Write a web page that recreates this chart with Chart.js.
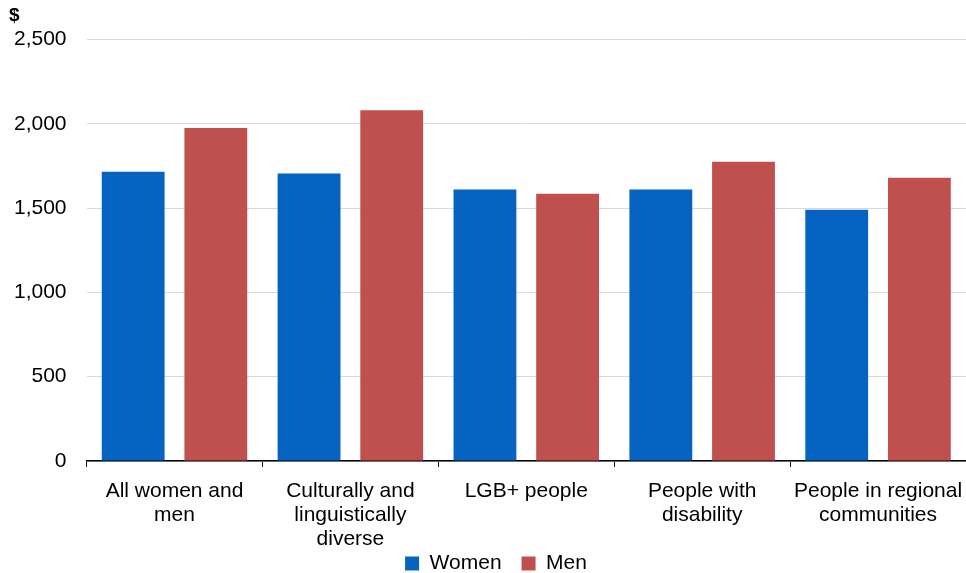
<!DOCTYPE html>
<html>
<head>
<meta charset="utf-8">
<script src="https://cdn.jsdelivr.net/npm/chart.js@4.4.1/dist/chart.umd.min.js"></script>
<style>
  html, body { margin: 0; padding: 0; background: #fff; }
  #wrap { width: 966px; height: 573px; }
</style>
</head>
<body>
<div id="wrap"><canvas id="chart"></canvas></div>
<script>
const categories = [
    ['All women and', 'men'],
    ['Culturally and', 'linguistically', 'diverse'],
    ['LGB+ people'],
    ['People with', 'disability'],
    ['People in regional', 'communities']
];
const women = [1715, 1705, 1610, 1610, 1490];
const men = [1975, 2080, 1585, 1775, 1680];
const yTicks = [0, 500, 1000, 1500, 2000, 2500];
const unitLabel = '$';

const font = 'Liberation Sans, Arial, sans-serif';

// unit label in the top left corner, and nudge the legend a bit to the right
const extrasPlugin = {
    id: 'extras',
    afterLayout: function (chart) {
        if (chart.legend) {
            chart.legend.left += 16;
            chart.legend.right += 16;
        }
    },
    afterDraw: function (chart) {
        const c = chart.ctx;
        c.save();
        c.fillStyle = '#000';
        c.font = 'bold 19px ' + font;
        c.textAlign = 'left';
        c.textBaseline = 'top';
        c.fillText(unitLabel, 9, 6);
        c.restore();
    }
};

const ctx = document.getElementById('chart').getContext('2d');
new Chart(ctx, {
    type: 'bar',
    data: {
        labels: categories,
        datasets: [{
            label: 'Women',
            data: women,
            backgroundColor: '#0563c1',
            barPercentage: 0.76,
            categoryPercentage: 0.94
        }, {
            label: 'Men',
            data: men,
            backgroundColor: '#c0504d',
            barPercentage: 0.76,
            categoryPercentage: 0.94
        }]
    },
    plugins: [extrasPlugin],
    options: {
        responsive: true,
        maintainAspectRatio: false,
        animation: false,
        layout: {
            // legend sits partly below the canvas edge so the axis labels can use that space
            padding: { left: -6, right: 0, top: 39.5, bottom: -11 }
        },
        plugins: {
            legend: {
                position: 'bottom',
                labels: {
                    color: '#000',
                    font: { family: font, size: 21 },
                    boxWidth: 14,
                    boxHeight: 14,
                    padding: 20
                }
            },
            tooltip: { enabled: false }
        },
        scales: {
            x: {
                afterFit: function (axis) {
                    axis.height = 72;
                    axis.paddingRight = 0;
                    // let the third label line run past the shortened axis box
                    axis._computeLabelArea = function () { return undefined; };
                },
                grid: {
                    display: true,
                    drawOnChartArea: false,
                    drawTicks: true,
                    tickLength: 6,
                    color: '#000'
                },
                border: { display: true, color: '#000', width: 1.5 },
                ticks: {
                    color: '#000',
                    font: { family: font, size: 21, lineHeight: 1.15 },
                    maxRotation: 0,
                    autoSkip: false,
                    padding: 12
                }
            },
            y: {
                min: 0,
                max: 2500,
                afterBuildTicks: function (axis) {
                    axis.ticks = yTicks.map(v => ({ value: v }));
                },
                grid: {
                    color: '#d9d9d9',
                    drawTicks: false
                },
                border: { display: false },
                ticks: {
                    color: '#000',
                    font: { family: font, size: 21 },
                    padding: 20,
                    callback: v => v.toLocaleString('en-US')
                }
            }
        }
    }
});
</script>
</body>
</html>
